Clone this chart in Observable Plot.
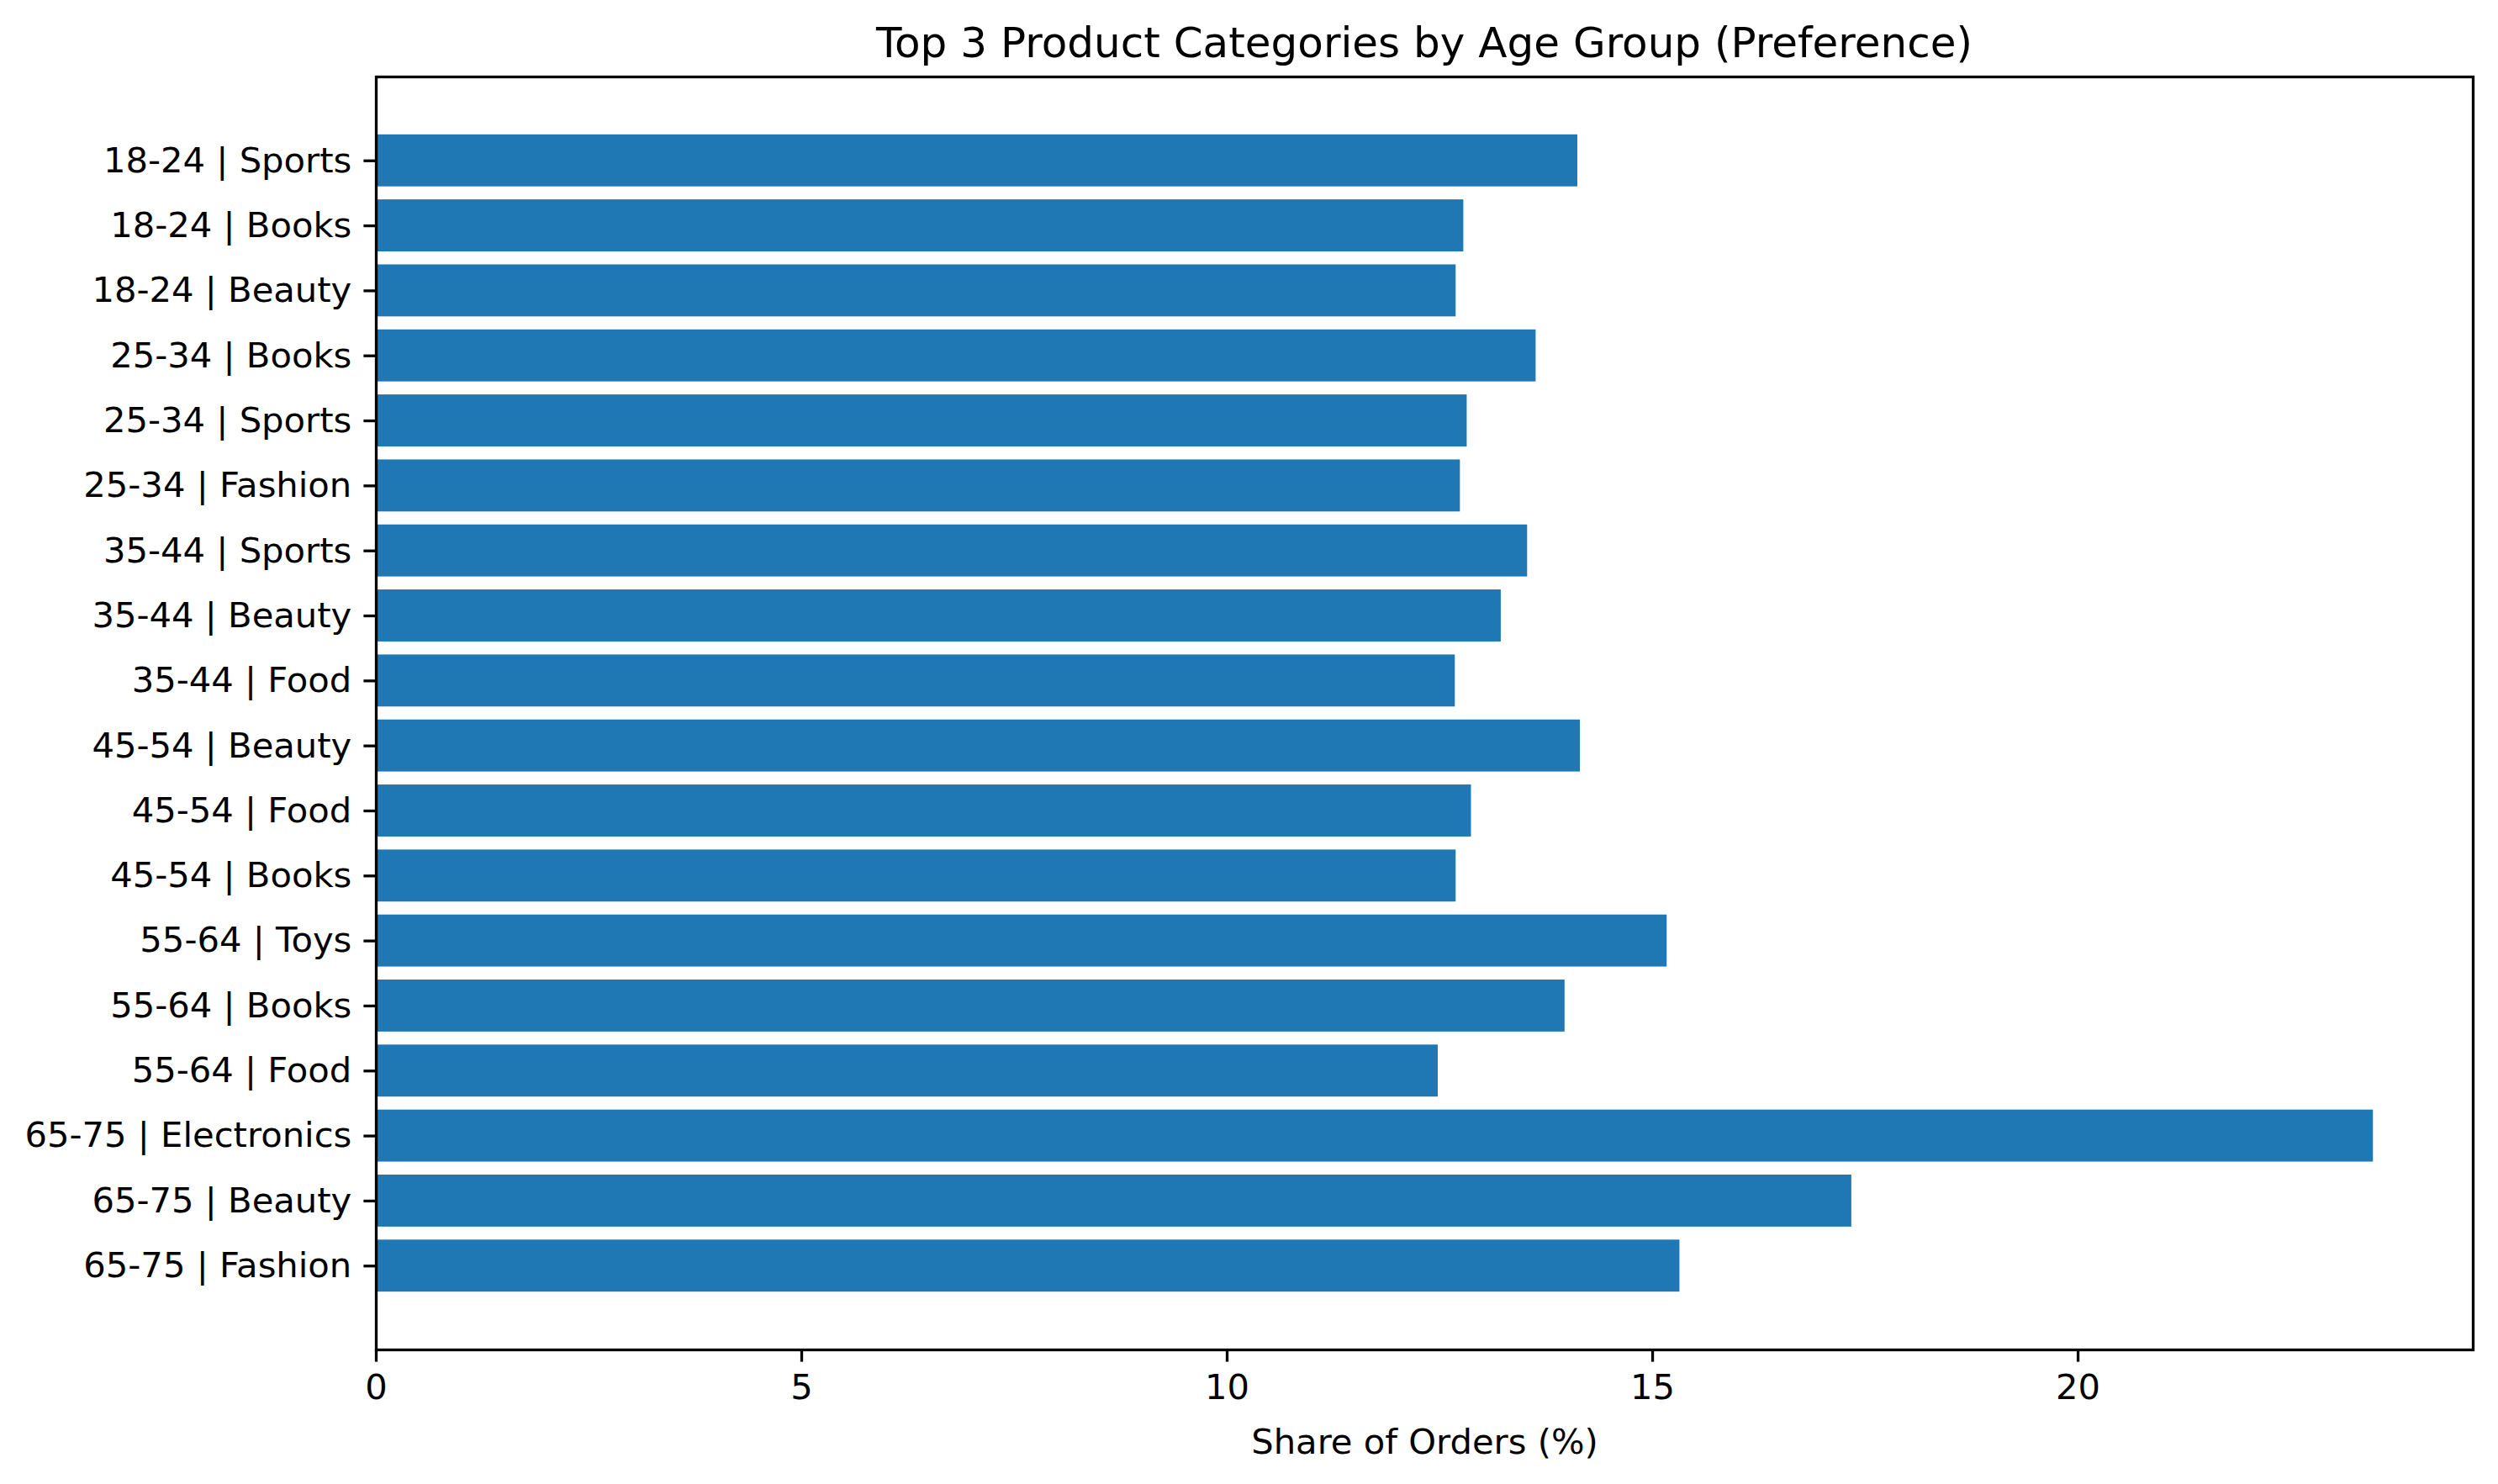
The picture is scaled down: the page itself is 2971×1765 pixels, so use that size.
<!DOCTYPE html>
<html>
<head>
<meta charset="utf-8">
<script src="https://cdn.jsdelivr.net/npm/d3@7"></script>
<script src="https://cdn.jsdelivr.net/npm/@observablehq/plot@0.6"></script>
<style>
  html, body { margin: 0; padding: 0; background: #fff; }
  #fig { position: relative; width: 2971px; height: 1765px; font-family: "DejaVu Sans", sans-serif; }
  #title { position: absolute; left: 447px; width: 2494px; top: 24px; text-align: center;
           font-size: 50px; line-height: 54px; color: #000; white-space: nowrap; }
  #chart { position: absolute; left: 0; top: 89px; }
</style>
</head>
<body>
<div id="fig">
  <div id="title">Top 3 Product Categories by Age Group (Preference)</div>
  <div id="chart"></div>
</div>
<script>
const ageGroups = ["18-24","18-24","18-24","25-34","25-34","25-34","35-44","35-44","35-44",
                   "45-54","45-54","45-54","55-64","55-64","55-64","65-75","65-75","65-75"];
const categories = ["Sports","Books","Beauty","Books","Sports","Fashion","Sports","Beauty","Food",
                    "Beauty","Food","Books","Toys","Books","Food","Electronics","Beauty","Fashion"];
const shares = [14.12, 12.78, 12.69, 13.63, 12.82, 12.74, 13.53, 13.22, 12.68,
                14.15, 12.87, 12.69, 15.17, 13.97, 12.48, 23.47, 17.34, 15.32];
const xTicks = [0, 5, 10, 15, 20];
const xLabel = "Share of Orders (%)";

const rows = ageGroups.map((a, i) => ({label: `${a} | ${categories[i]}`, value: shares[i]}));
const labels = rows.map(d => d.label);
const xMax = d3.max(shares) * 1.05;

const plot = Plot.plot({
  width: 2971,
  height: 1676,
  marginTop: 2,
  marginBottom: 160,
  marginLeft: 447,
  marginRight: 30,
  style: {fontFamily: "DejaVu Sans, sans-serif", fontSize: "41.7px", color: "#000", background: "#fff"},
  x: {domain: [0, xMax]},
  y: {domain: labels, paddingInner: 0.2, paddingOuter: 0.89, align: 0.5, round: false},
  marks: [
    Plot.barX(rows, {x: "value", y: "label", fill: "#1f77b4"}),
    Plot.frame({stroke: "#000", strokeWidth: 3.3}),
    Plot.axisX({ticks: xTicks, tickFormat: d => String(d), tickSize: 14.6, tickPadding: 14.6,
                strokeWidth: 3.3, label: xLabel, labelAnchor: "center", labelArrow: "none",
                labelOffset: 123, fontSize: 41.7}),
    Plot.axisY({tickSize: 14.6, tickPadding: 14.6, strokeWidth: 3.3, label: null, fontSize: 41.7})
  ]
});
document.getElementById("chart").appendChild(plot);
</script>
</body>
</html>
